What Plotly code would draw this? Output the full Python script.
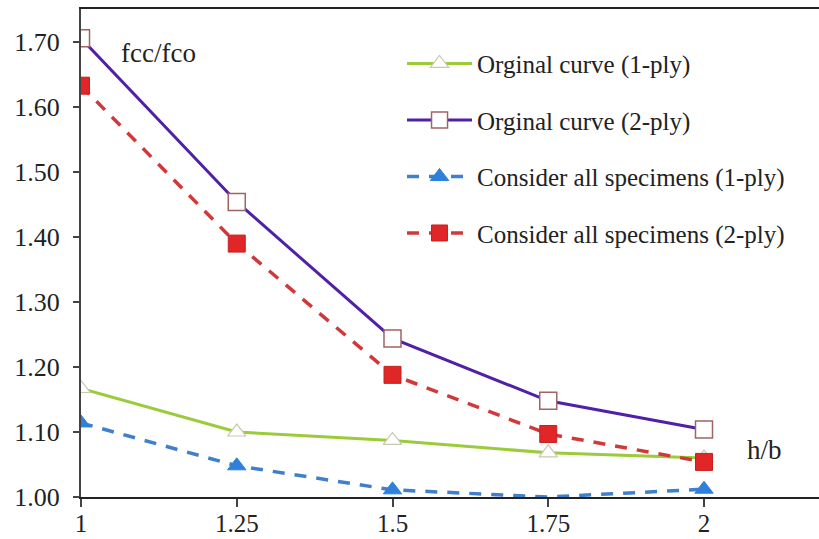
import plotly.graph_objects as go

# aspect ratio h/b
h_b = [1, 1.25, 1.5, 1.75, 2]
tick_text = ["1", "1.25", "1.5", "1.75", "2"]

# strength ratio fcc/fco
orig_1ply = [1.167, 1.100, 1.087, 1.068, 1.060]
orig_2ply = [1.706, 1.454, 1.244, 1.148, 1.104]
all_1ply = [1.114, 1.048, 1.011, 1.000, 1.012]
all_2ply = [1.633, 1.390, 1.188, 1.097, 1.054]

y_ticks = [1.00, 1.10, 1.20, 1.30, 1.40, 1.50, 1.60, 1.70]

serif = "Liberation Serif, Times New Roman, serif"
ink = "#222"

fig = go.Figure()

fig.add_trace(go.Scatter(
    x=h_b, y=orig_1ply, mode="lines+markers", name="Orginal curve (1-ply)",
    legendgroup="a",
    line=dict(color="#9BCB3B", width=3),
    marker=dict(symbol="triangle-up", size=16, color="white",
                line=dict(color="#C8C8B4", width=1.2)),
))
fig.add_trace(go.Scatter(
    x=h_b, y=orig_2ply, mode="lines+markers", name="Orginal curve (2-ply)",
    legendgroup="b",
    line=dict(color="#5020A6", width=3),
    marker=dict(symbol="square", size=17, color="white",
                line=dict(color="#A06464", width=1.5)),
))
# the point lying on the axis floor keeps its line but shows no marker
fig.add_trace(go.Scatter(
    x=h_b, y=all_1ply, mode="lines+markers", name="Consider all specimens (1-ply)",
    legendgroup="c",
    line=dict(color="#3F7FCB", width=3.5, dash="12px,10px"),
    marker=dict(symbol="triangle-up", size=16, color="#2E80DA",
                line=dict(color="#2E80DA", width=1)),
    selectedpoints=[0, 1, 2, 4],
    selected=dict(marker=dict(opacity=1)),
    unselected=dict(marker=dict(opacity=0)),
))
fig.add_trace(go.Scatter(
    x=h_b, y=all_2ply, mode="lines+markers", name="Consider all specimens (2-ply)",
    legendgroup="d",
    line=dict(color="#D0383A", width=3.5, dash="12px,10px"),
    marker=dict(symbol="square", size=17, color="#E02626",
                line=dict(color="#C82020", width=1)),
))

fig.add_annotation(x=(158 - 81) / 738, y=1.683, xref="paper", yref="y",
                   xanchor="center", text="fcc/fco", showarrow=False,
                   font=dict(family=serif, size=27, color=ink))
fig.add_annotation(x=2.097, y=1.072, xref="x", yref="y",
                   xanchor="center", text="h/b", showarrow=False,
                   font=dict(family=serif, size=27, color=ink))

fig.update_layout(
    width=819, height=539,
    margin=dict(l=81, r=0, t=9, b=42, autoexpand=False),
    paper_bgcolor="white", plot_bgcolor="white",
    font=dict(family=serif, size=25, color=ink),
    legend=dict(x=0.435, y=0.935, xanchor="left", yanchor="top",
                bgcolor="rgba(0,0,0,0)", font=dict(family=serif, size=25, color=ink),
                traceorder="grouped", tracegroupgap=21, itemwidth=65),
    xaxis=dict(range=[1, 2.1846], tickvals=h_b, ticktext=tick_text,
               automargin=False, ticklabelstandoff=-5,
               showgrid=False, zeroline=False, showline=True, linecolor=ink,
               linewidth=2, mirror=True, ticks="outside", ticklen=8, tickwidth=1.5,
               tickcolor="#444", tickfont=dict(family=serif, size=25, color=ink)),
    yaxis=dict(range=[1.0, 1.751], tickvals=y_ticks,
               ticktext=[f"{v:.2f}" for v in y_ticks],
               automargin=False,
               showgrid=False, zeroline=False, showline=True, linecolor="#444",
               linewidth=2, ticks="outside", ticklen=6, tickwidth=1.5,
               ticklabelstandoff=8,
               tickcolor="#444", tickfont=dict(family=serif, size=26, color=ink)),
)

fig.write_html("out.html")
